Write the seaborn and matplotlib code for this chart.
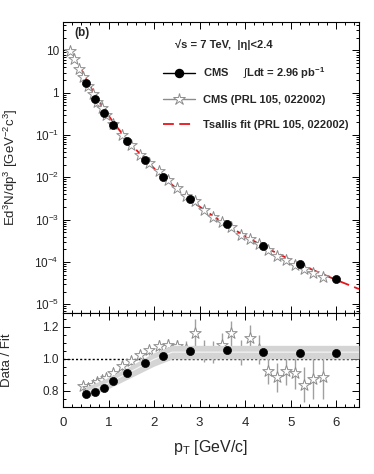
import matplotlib
matplotlib.use("Agg")
import matplotlib.pyplot as plt
import seaborn as sns
import numpy as np
from matplotlib.lines import Line2D
from matplotlib.ticker import FixedLocator, FixedFormatter, MultipleLocator, NullFormatter

# --- data ---
# this measurement (black circles)
cms_pt = [0.5, 0.7, 0.9, 1.1, 1.4, 1.8, 2.2, 2.8, 3.6, 4.4, 5.2, 6.0]
cms_yield = [1.7, 0.72, 0.34, 0.175, 0.072, 0.026, 0.0103, 0.0030, 7.7e-4, 2.44e-4, 9.1e-5, 3.9e-5]
cms_ratio = [0.78, 0.795, 0.82, 0.86, 0.915, 0.975, 1.02, 1.05, 1.055, 1.045, 1.035, 1.035]

# CMS PRL 105, 022002 (open stars)
prl_pt_top = [0.15, 0.25, 0.35, 0.45, 0.55, 0.65, 0.75, 0.85, 0.95, 1.1, 1.3, 1.5, 1.7, 1.9,
              2.1, 2.3, 2.5, 2.7, 2.9, 3.1, 3.3, 3.5, 3.7, 3.9, 4.1, 4.3, 4.5, 4.7, 4.9,
              5.1, 5.3, 5.5, 5.7]
prl_yield = [9.8, 6.4, 3.7, 2.3, 1.43, 0.94, 0.62, 0.44, 0.30, 0.186, 0.102, 0.057, 0.0343,
             0.0216, 0.0138, 0.0088, 0.0057, 0.0037, 0.0027, 0.00168, 0.00117, 8.7e-4,
             6.7e-4, 4.4e-4, 3.5e-4, 2.7e-4, 1.95e-4, 1.4e-4, 1.1e-4, 8.6e-5, 6.7e-5,
             5.6e-5, 4.5e-5]
prl_pt = prl_pt_top[3:]
prl_ratio = [0.83, 0.82, 0.835, 0.855, 0.87, 0.88, 0.915, 0.955, 0.99, 1.025, 1.055, 1.08,
             1.085, 1.08, 1.06, 1.16, 1.05, 1.045, 1.09, 1.16, 1.04, 1.13, 1.06, 0.925,
             0.885, 0.925, 0.91, 0.84, 0.875, 0.89]
prl_ratio_err = [0.03, 0.03, 0.03, 0.03, 0.03, 0.03, 0.03, 0.03, 0.03, 0.03, 0.03, 0.04,
                 0.04, 0.04, 0.05, 0.09, 0.07, 0.07, 0.07, 0.08, 0.08, 0.08, 0.09, 0.08,
                 0.09, 0.085, 0.095, 0.11, 0.125, 0.14]

# Tsallis fit curve
fit_pt = [0.4, 0.5, 0.6, 0.7, 0.9, 1.1, 1.4, 1.8, 2.2, 2.8, 3.6, 4.4, 5.2, 6.0, 6.5]
fit_yield = [3.5, 2.18, 1.40, 0.906, 0.415, 0.203, 0.0787, 0.0267, 0.0101, 0.00286,
             7.3e-4, 2.33e-4, 8.8e-5, 3.77e-5, 2.3e-5]

# systematic band on the ratio
band_pt = [0.5, 1.0, 1.5, 2.0, 2.4, 6.5]
band_low = [0.755, 0.815, 0.885, 0.955, 1.0, 1.0]
band_high = [0.825, 0.885, 0.96, 1.04, 1.085, 1.085]

log_ticks = [1e-5, 1e-4, 1e-3, 1e-2, 1e-1, 1, 10]
log_labels = [r"$10^{-5}$", r"$10^{-4}$", r"$10^{-3}$", r"$10^{-2}$", r"$10^{-1}$", "1", "10"]
legend_labels = ["CMS     $\\int$Ldt = 2.96 pb$^{\\mathbf{-1}}$",
                 "CMS (PRL 105, 022002)",
                 "Tsallis fit (PRL 105, 022002)"]

sns.set_style("ticks")
plt.rcParams["font.family"] = ["Liberation Sans", "DejaVu Sans"]
plt.rcParams["mathtext.fontset"] = "custom"
plt.rcParams["mathtext.rm"] = "Liberation Sans"
plt.rcParams["mathtext.it"] = "Liberation Sans:italic"
plt.rcParams["mathtext.bf"] = "Liberation Sans:bold"

red = "#e8141a"
star_grey = "#8c8c8c"

fig = plt.figure(figsize=(3.74, 4.74), dpi=100)
ax1 = fig.add_axes([0.1684, 0.3407, 0.7914, 0.6129])
ax2 = fig.add_axes([0.1684, 0.1414, 0.7914, 0.1993])

# top panel: spectra
sns.lineplot(x=fit_pt, y=fit_yield, ax=ax1, color=red, lw=1.3, linestyle=(0, (6, 3)),
             zorder=2)
sns.scatterplot(x=prl_pt_top, y=prl_yield, ax=ax1, marker="*", s=75, facecolor="white",
                edgecolor=star_grey, linewidth=0.7, zorder=3)
sns.scatterplot(x=cms_pt, y=cms_yield, ax=ax1, marker="o", s=34, color="black",
                edgecolor="black", zorder=4)
ax1.set_yscale("log")
ax1.set_xlim(0, 6.5)
ax1.set_ylim(6.4e-6, 47)
ax1.yaxis.set_major_locator(FixedLocator(log_ticks))
ax1.yaxis.set_major_formatter(FixedFormatter(log_labels))
ax1.yaxis.set_minor_locator(matplotlib.ticker.LogLocator(base=10, subs=np.arange(2, 10),
                                                         numticks=20))
ax1.yaxis.set_minor_formatter(NullFormatter())
ax1.xaxis.set_major_locator(MultipleLocator(1))
ax1.xaxis.set_minor_locator(MultipleLocator(0.2))
ax1.set_xticklabels([])
ax1.set_ylabel("Ed$^3$N/dp$^3$ [GeV$^{-2}$c$^3$]", fontsize=9.5)
ax1.yaxis.set_label_coords(-0.145, 0.5)

handles = [
    Line2D([], [], color="black", marker="o", ms=5.8, lw=1),
    Line2D([], [], color=star_grey, marker="*", ms=9, mfc="white", mec=star_grey,
           mew=0.7, lw=1),
    Line2D([], [], color=red, ls=(0, (6, 3)), lw=1.3),
]
ax1.legend(handles, legend_labels, loc="upper left", bbox_to_anchor=(163 / 374, 1 - 65 / 474),
           bbox_transform=fig.transFigure, frameon=False, handlelength=2.9,
           handletextpad=0.7, labelspacing=1.3, borderpad=0, borderaxespad=0,
           prop=dict(weight="bold", size=8))
fig.text(175 / 374, 1 - 45 / 474, "√s = 7 TeV,  |η|<2.4", fontsize=8, fontweight="bold",
         va="center")
fig.text(74 / 374, 1 - 33 / 474, "(b)", fontsize=8.5, fontweight="bold", va="center")

# bottom panel: data / fit
ax2.axhline(1.0, color="black", ls=(0, (1.5, 1.5)), lw=1, zorder=1)
ax2.errorbar(prl_pt, prl_ratio, yerr=prl_ratio_err, fmt="none", ecolor="#a0a0a0",
             elinewidth=1, zorder=1.5)
sns.scatterplot(x=prl_pt, y=prl_ratio, ax=ax2, marker="*", s=75, facecolor="white",
                edgecolor=star_grey, linewidth=0.7, zorder=2)
ax2.fill_between(band_pt, band_low, band_high, color="#d4d4d4", lw=0, zorder=3)
ax2.plot(band_pt, [(lo + hi) / 2 for lo, hi in zip(band_low, band_high)], color="white",
         lw=0.8, alpha=0.8, zorder=3.2)
sns.scatterplot(x=cms_pt, y=cms_ratio, ax=ax2, marker="o", s=34, color="black",
                edgecolor="black", zorder=4)
ax2.set_xlim(0, 6.5)
ax2.set_ylim(0.7, 1.29)
ax2.yaxis.set_major_locator(FixedLocator([0.8, 1.0, 1.2]))
ax2.yaxis.set_major_formatter(FixedFormatter(["0.8", "1.0", "1.2"]))
ax2.yaxis.set_minor_locator(MultipleLocator(0.05))
ax2.xaxis.set_major_locator(MultipleLocator(1))
ax2.xaxis.set_minor_locator(MultipleLocator(0.2))
ax2.set_xlabel("p$_\\mathrm{T}$ [GeV/c]", fontsize=11.5, labelpad=7)
ax2.set_ylabel("Data / Fit", fontsize=9.5)
ax2.yaxis.set_label_coords(-0.169, 0.5)

for ax in (ax1, ax2):
    ax.tick_params(which="both", direction="in", top=True, right=True, width=0.7,
                   labelsize=8.5, pad=3, color="black")
    ax.tick_params(which="major", length=5)
    ax.tick_params(which="minor", length=2.5)
    for sp in ax.spines.values():
        sp.set_linewidth(0.8)
        sp.set_color("black")
ax2.tick_params(axis="x", which="both", pad=7, labelsize=9.5)

fig.savefig("out.png", dpi=100)
